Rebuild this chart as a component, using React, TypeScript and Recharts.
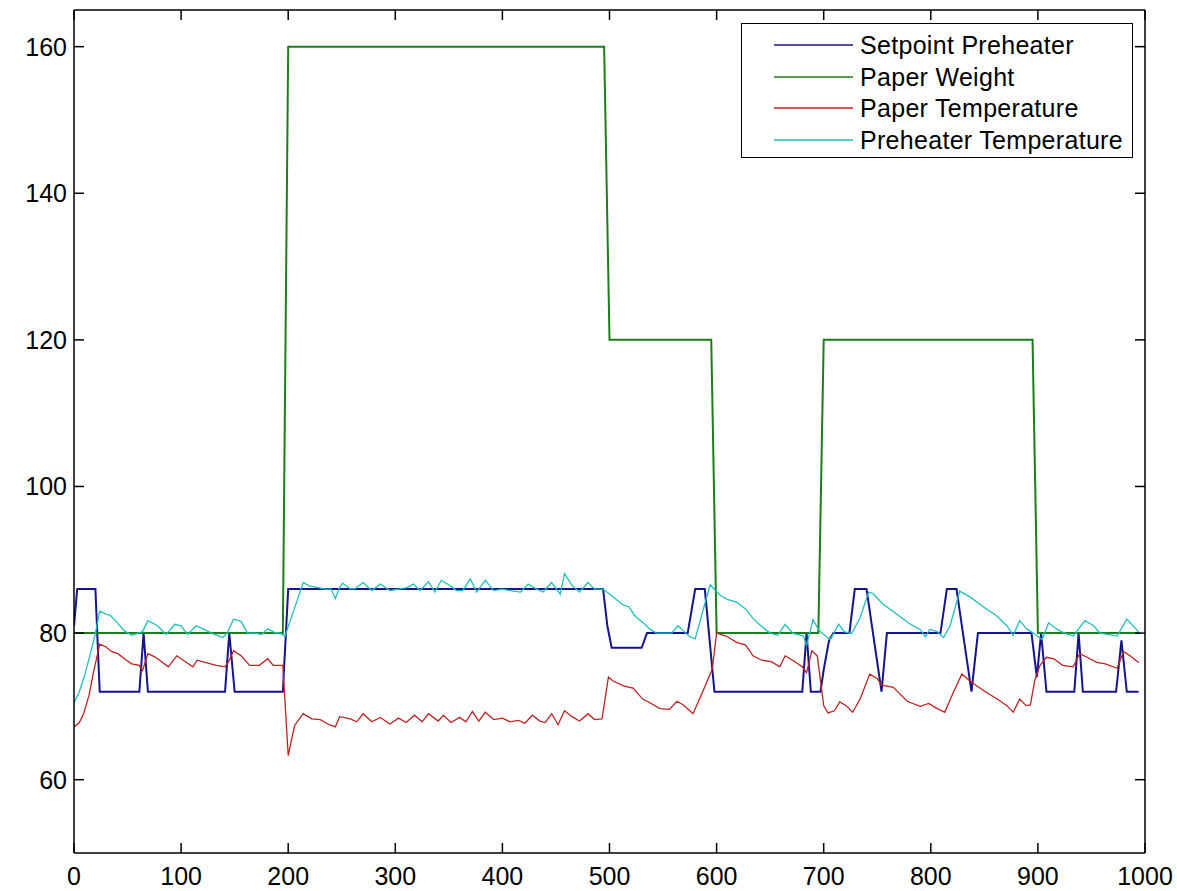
import React from 'react';
import { LineChart, Line, XAxis, YAxis, Legend } from 'recharts';

const xTicks = [0, 100, 200, 300, 400, 500, 600, 700, 800, 900, 1000];
const yTicks = [60, 80, 100, 120, 140, 160];

const seriesNames = ['Setpoint Preheater', 'Paper Weight', 'Paper Temperature', 'Preheater Temperature'];
const seriesColors = ['#14148c', '#1a7f1a', '#c02020', '#1fbfbf'];

const setpointX = [0, 3, 20, 24, 61, 65, 69, 141, 145, 150, 195, 200, 494, 498, 502, 530, 535, 573, 580, 589, 598, 680, 684, 688, 697, 700, 705, 709, 724, 729, 740, 747, 754, 759, 809, 815, 824, 831, 838, 844, 894, 899, 903, 908, 934, 938, 942, 973, 978, 983, 994];
const setpointY = [81, 86, 86, 72, 72, 80, 72, 72, 80, 72, 72, 86, 86, 81, 78, 78, 80, 80, 86, 86, 72, 72, 80, 72, 72, 75, 79, 80, 80, 86, 86, 79, 72, 80, 80, 86, 86, 79, 72, 80, 80, 74, 80, 72, 72, 80, 72, 72, 79, 72, 72];

const weightX = [0, 195, 200, 495, 500, 595, 600, 695, 700, 895, 900, 995];
const weightY = [80, 80, 160, 160, 120, 120, 80, 80, 120, 120, 80, 80];

const paperTempX = [0, 5, 9, 14, 18, 24, 30, 35, 41, 49, 54, 61, 64, 69, 75, 80, 88, 96, 103, 111, 115, 125, 133, 141, 144, 149, 156, 164, 173, 181, 186, 195, 200, 206, 214, 222, 230, 237, 244, 248, 258, 264, 270, 278, 286, 295, 303, 310, 318, 325, 331, 340, 345, 352, 360, 366, 372, 378, 384, 392, 400, 407, 415, 421, 428, 435, 440, 446, 452, 458, 465, 472, 480, 486, 493, 499, 503, 513, 522, 531, 539, 547, 556, 563, 569, 578, 587, 596, 600, 609, 619, 627, 634, 642, 651, 659, 664, 671, 680, 684, 689, 694, 700, 704, 710, 715, 721, 727, 734, 743, 750, 754, 765, 778, 790, 798, 805, 813, 821, 829, 838, 852, 862, 871, 877, 883, 889, 893, 897, 902, 908, 915, 923, 933, 939, 946, 955, 963, 974, 980, 986, 994];
const paperTempY = [67.2, 67.8, 69, 71.5, 74.5, 78.5, 78.1, 77.5, 77.2, 76.3, 75.8, 75.6, 74.9, 77.2, 76.8, 76.3, 75.4, 76.9, 76.2, 75.4, 76.3, 75.9, 75.6, 75.4, 76, 77.6, 76.9, 75.6, 75.6, 76.5, 75.6, 75.6, 63.3, 67.4, 69, 68.3, 68.2, 67.6, 67.2, 68.6, 68.3, 67.9, 69, 67.9, 68.5, 67.6, 68.4, 67.8, 68.8, 67.9, 69, 68, 68.8, 67.8, 68.5, 67.9, 69.3, 68, 69.2, 68.2, 68.4, 67.9, 68.1, 67.7, 68.8, 68, 67.8, 69, 67.5, 69.4, 68.6, 68, 69, 68.2, 68.3, 74, 73.5, 72.8, 72.5, 71, 70.4, 69.7, 69.6, 70.7, 70.2, 69, 72, 75.1, 80, 79.6, 78.7, 78.4, 76.9, 76.3, 76.1, 75.4, 76.9, 76.3, 75.4, 74.6, 77.6, 76.9, 70.1, 69.1, 69.4, 70.6, 70.1, 69.2, 71, 74.4, 73.8, 72.9, 72.6, 70.7, 70, 70.4, 69.8, 69.2, 71.9, 74.4, 73.3, 71.9, 71, 70.1, 69.2, 71, 70.1, 70.2, 73.5, 75.6, 76.7, 76.5, 75.6, 75.4, 77.2, 76.7, 76, 75.8, 75.2, 77.5, 76.9, 76];

const heaterTempX = [0, 5, 10, 15, 20, 24, 30, 34, 40, 47, 54, 60, 64, 69, 78, 86, 94, 100, 106, 114, 120, 130, 139, 143, 149, 156, 162, 170, 175, 181, 187, 192, 197, 205, 214, 220, 228, 235, 240, 244, 248, 251, 258, 263, 270, 278, 286, 295, 303, 311, 317, 323, 331, 337, 343, 351, 357, 363, 370, 376, 384, 392, 400, 407, 417, 424, 432, 438, 446, 454, 458, 465, 472, 480, 486, 494, 502, 513, 518, 524, 533, 538, 544, 558, 564, 569, 575, 580, 589, 594, 603, 610, 619, 627, 634, 642, 650, 657, 664, 671, 681, 684, 690, 696, 706, 714, 719, 726, 734, 742, 746, 755, 768, 781, 790, 795, 799, 806, 812, 818, 827, 837, 849, 862, 871, 877, 883, 890, 896, 904, 910, 918, 925, 933, 944, 952, 958, 974, 983, 992, 995];
const heaterTempY = [70.5, 72, 74.3, 77, 80, 83, 82.6, 82.4, 81.5, 80.3, 79.7, 80, 80.2, 81.7, 81, 79.8, 81.2, 81, 79.8, 81, 80.6, 79.9, 79.4, 80, 81.9, 81.6, 80, 80, 79.8, 80.6, 80.1, 80, 79.6, 83, 86.9, 86.4, 86.2, 86, 86, 84.7, 86.2, 86.8, 86, 86.1, 86.9, 85.8, 86.7, 85.8, 86, 86.2, 86.7, 85.8, 87, 85.6, 87.2, 86.5, 85.8, 85.8, 87.4, 85.6, 87.2, 85.8, 86, 85.8, 85.6, 86.7, 86, 85.6, 86.9, 85.3, 88.1, 86.5, 85.6, 86.9, 86, 86, 85.1, 83.8, 83.6, 82.3, 81.2, 80.5, 80, 80, 81, 80.3, 79.5, 79.2, 84, 86.6, 85.2, 84.6, 84.2, 83.3, 82, 80.9, 80, 79.7, 81.2, 80, 79.6, 78.3, 81.8, 80.3, 79.1, 81.2, 80.2, 79.9, 82.1, 85.6, 85.4, 84, 82.6, 81.2, 80.5, 79.5, 80.5, 80.2, 79.4, 81, 85.7, 84.9, 83.6, 82.3, 81, 79.7, 81.7, 80.5, 80, 79.1, 81.4, 80.5, 80, 79.6, 81.7, 81, 80, 79.6, 81.9, 80.5, 80];

const zip = (xs: number[], ys: number[]) => xs.map((x, i) => ({ x, y: ys[i] }));

const seriesData = [
  zip(setpointX, setpointY),
  zip(weightX, weightY),
  zip(paperTempX, paperTempY),
  zip(heaterTempX, heaterTempY),
];
const seriesWidths = [2, 2, 1.3, 1.3];

const FONT = '"Liberation Sans", Arial, Helvetica, sans-serif';
const TICK_LEN = 10;

const BottomTick = (props: any) => {
  const { x, y, payload } = props;
  return (
    <g>
      <line x1={x} x2={x} y1={y} y2={y - TICK_LEN} stroke="#000" strokeWidth={1.5} />
      <text x={x} y={y + 32} textAnchor="middle" fontSize={25} fontFamily={FONT} fill="#000">
        {payload.value}
      </text>
    </g>
  );
};

const TopTick = (props: any) => {
  const { x, y } = props;
  return <line x1={x} x2={x} y1={y} y2={y + TICK_LEN} stroke="#000" strokeWidth={1.5} />;
};

const LeftTick = (props: any) => {
  const { x, y, payload } = props;
  return (
    <g>
      <line x1={x} x2={x + TICK_LEN} y1={y} y2={y} stroke="#000" strokeWidth={1.5} />
      <text x={x - 7} y={y + 9} textAnchor="end" fontSize={25} fontFamily={FONT} fill="#000">
        {payload.value}
      </text>
    </g>
  );
};

const RightTick = (props: any) => {
  const { x, y } = props;
  return <line x1={x} x2={x - TICK_LEN} y1={y} y2={y} stroke="#000" strokeWidth={1.5} />;
};

const LegendBox = () => (
  <div
    style={{
      boxSizing: 'border-box',
      width: 392,
      height: 135,
      border: '1px solid #000',
      background: '#fff',
      position: 'relative',
      fontFamily: FONT,
    }}
  >
    {seriesNames.map((name, i) => (
      <div
        key={name}
        style={{
          position: 'absolute',
          left: 0,
          top: 6 + i * 31.7,
          height: 30,
          display: 'flex',
          alignItems: 'center',
          whiteSpace: 'nowrap',
        }}
      >
        <svg width={118} height={30} style={{ display: 'block' }}>
          <line x1={32} x2={111} y1={15} y2={15} stroke={seriesColors[i]} strokeWidth={1.5} />
        </svg>
        <span style={{ fontSize: 25, lineHeight: '30px', color: '#000', letterSpacing: 0.3 }}>{name}</span>
      </div>
    ))}
  </div>
);

const axisLineStyle = { stroke: '#000', strokeWidth: 1.5 };

export default function App() {
  return (
    <div style={{ width: 1177, height: 891, background: '#fff' }}>
      <style>{`body{margin:0;overflow:hidden;background:#fff;}`}</style>
      <LineChart width={1177} height={891} margin={{ top: 9, right: 31, bottom: 0, left: 0 }}>
        <XAxis
          type="number"
          dataKey="x"
          domain={[0, 1000]}
          ticks={xTicks}
          interval={0}
          allowDataOverflow
          height={38}
          tickSize={0}
          tickMargin={0}
          tickLine={false}
          tick={<BottomTick />}
          axisLine={axisLineStyle}
        />
        <XAxis
          xAxisId="top"
          orientation="top"
          type="number"
          dataKey="x"
          domain={[0, 1000]}
          ticks={xTicks}
          interval={0}
          allowDataOverflow
          height={1}
          tickSize={0}
          tickMargin={0}
          tickLine={false}
          tick={<TopTick />}
          axisLine={axisLineStyle}
        />
        <YAxis
          type="number"
          domain={[50, 165]}
          ticks={yTicks}
          interval={0}
          allowDataOverflow
          width={74}
          tickSize={0}
          tickMargin={0}
          tickLine={false}
          tick={<LeftTick />}
          axisLine={axisLineStyle}
        />
        <YAxis
          yAxisId="right"
          orientation="right"
          type="number"
          domain={[50, 165]}
          ticks={yTicks}
          interval={0}
          allowDataOverflow
          width={1}
          tickSize={0}
          tickMargin={0}
          tickLine={false}
          tick={<RightTick />}
          axisLine={axisLineStyle}
        />
        {seriesData.map((d, i) => (
          <Line
            key={seriesNames[i]}
            name={seriesNames[i]}
            data={d}
            dataKey="y"
            type="linear"
            stroke={seriesColors[i]}
            strokeWidth={seriesWidths[i]}
            dot={false}
            activeDot={false}
            isAnimationActive={false}
          />
        ))}
        <Legend
          layout="horizontal"
          verticalAlign="middle"
          align="center"
          wrapperStyle={{ position: 'absolute', left: 741, top: 23, width: 392, height: 135, margin: 0 }}
          content={() => <LegendBox />}
        />
      </LineChart>
    </div>
  );
}
